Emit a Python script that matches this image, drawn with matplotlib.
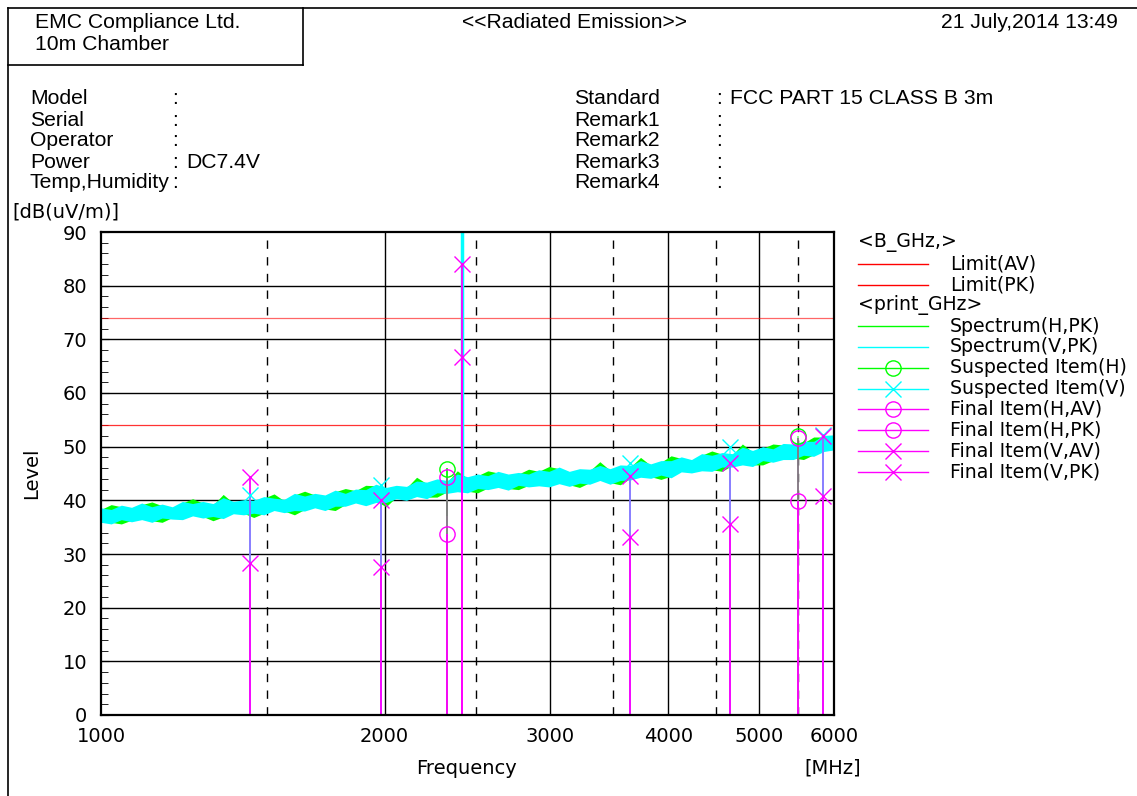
import matplotlib
matplotlib.use("Agg")
import numpy as np
import matplotlib.pyplot as plt
from matplotlib.ticker import FixedLocator, NullLocator, MultipleLocator

# ---------------- data ----------------
limit_av = 54.0
limit_pk = 74.0

# sweep grid of the spectrum trace (MHz)
spec_start, spec_stop = 1000, 6000
spec_v_upper = [38.6, 38.3, 39.1, 38.7, 39.5, 38.8, 39.3, 38.8, 39.8, 39.4, 39.8, 39.4, 40.5, 39.8,
                40.1, 40.0, 40.7, 40.4, 40.2, 41.3, 40.8, 41.3, 41.0, 41.9, 41.3, 42.1, 42.0, 43.0,
                42.4, 42.8, 42.6, 43.6, 43.4, 44.0, 43.7, 44.9, 44.4, 44.9, 44.6, 45.4, 44.9, 45.2,
                44.9, 45.7, 45.4, 46.2, 45.4, 45.9, 45.8, 46.5, 45.9, 46.6, 46.5, 47.4, 46.8, 47.4,
                47.4, 48.1, 47.6, 48.7, 48.4, 48.9, 48.7, 49.9, 49.3, 50.0, 49.6, 50.6, 50.5, 51.0,
                51.0, 52.1, 52.2]
spec_v_lower = [35.9, 35.6, 36.4, 36.0, 36.4, 35.9, 36.7, 36.5, 36.4, 37.1, 36.7, 37.0, 36.6, 37.5,
                37.3, 37.6, 37.3, 38.1, 37.7, 38.1, 38.0, 38.6, 38.1, 38.9, 38.9, 39.5, 39.0, 39.6,
                39.6, 40.3, 40.0, 40.7, 40.3, 41.4, 41.3, 41.6, 41.4, 42.2, 42.0, 42.4, 41.9, 42.8,
                42.5, 42.7, 42.5, 43.1, 42.6, 43.2, 43.0, 43.7, 43.0, 43.7, 43.8, 44.3, 44.1, 44.7,
                44.2, 45.3, 45.1, 45.5, 45.4, 46.2, 46.2, 46.6, 46.3, 47.4, 47.1, 47.6, 47.6, 48.4,
                48.2, 49.1, 49.4]
spec_h_upper = [38.3, 39.2, 38.8, 38.4, 39.2, 39.7, 39.0, 38.5, 39.5, 40.3, 39.5, 39.1, 41.1, 39.5,
                39.8, 39.7, 40.4, 41.2, 39.9, 41.0, 41.7, 41.0, 40.7, 41.6, 42.2, 41.8, 42.8, 42.7,
                42.1, 42.5, 42.3, 44.3, 43.1, 43.7, 43.4, 45.5, 44.1, 44.6, 45.5, 45.1, 44.6, 44.9,
                45.8, 45.4, 46.3, 45.9, 45.1, 45.6, 45.5, 47.2, 45.6, 46.3, 46.2, 48.0, 46.5, 47.1,
                48.3, 47.8, 47.3, 48.4, 49.2, 48.6, 48.4, 50.5, 49.0, 49.7, 50.5, 50.3, 50.2, 50.7,
                51.8, 51.8, 51.9]
spec_h_lower = [36.2, 35.9, 35.6, 36.3, 36.7, 36.2, 35.9, 36.8, 36.7, 37.4, 37.0, 36.2, 36.9, 37.8,
                37.6, 36.8, 37.6, 38.4, 38.0, 37.3, 38.3, 38.9, 38.4, 38.1, 39.2, 39.8, 39.3, 39.9,
                38.8, 40.6, 40.3, 41.0, 40.6, 40.6, 41.6, 41.9, 41.7, 41.4, 42.3, 42.7, 42.2, 42.0,
                42.8, 43.0, 42.8, 43.4, 42.9, 42.4, 43.3, 44.0, 43.3, 42.9, 44.1, 44.6, 44.4, 43.9,
                44.5, 45.6, 45.4, 45.8, 45.7, 45.4, 46.5, 46.9, 46.6, 46.6, 47.4, 47.9, 47.9, 47.6,
                48.5, 49.4, 49.7]

spike_v_freq = [2414]
spike_v_base = [44.0]
spike_v_top = [95.0]
spike_h_freq = [2328]
spike_h_base = [37.0]
spike_h_top = [46.0]

susp_h_freq = [2328, 5500]
susp_h_level = [45.9, 51.9]
susp_v_freq = [1439, 1982, 3642, 4651, 5843]
susp_v_level = [41.0, 42.9, 46.9, 49.9, 52.1]

final_h_freq = [2328, 5500]
final_h_av = [33.8, 39.9]
final_h_pk = [44.4, 51.6]
final_v_freq = [1439, 1982, 2417, 3642, 4651, 5843]
final_v_av = [28.3, 27.5, 66.7, 33.1, 35.5, 40.8]
final_v_pk = [44.3, 40.1, 84.1, 44.6, 47.0, 51.9]

x_ticks = [1000, 2000, 3000, 4000, 5000, 6000]
x_solid_grid = [2000, 3000, 4000, 5000]
x_dashed_grid = [1500, 2500, 3500, 4500, 5500]
y_ticks = list(range(0, 91, 10))

GREEN = "#00ff00"
CYAN = "#00ffff"
MAG = "#ff00ff"
RED = "#ff0000"

W, H = 1137, 796
fig = plt.figure(figsize=(W / 100, H / 100), dpi=100)
plt.rcParams['font.family'] = ['DejaVu Sans']

# overlay axes in pixel coordinates for header / legend
lax = fig.add_axes([0, 0, 1, 1])
lax.set_xlim(0, W)
lax.set_ylim(H, 0)
lax.axis("off")

# borders
lax.plot([8, W], [8, 8], color="black", lw=1.2)
lax.plot([8, 8], [8, H], color="black", lw=1.2)
lax.plot([303, 303], [8, 65], color="black", lw=1.2)
lax.plot([8, 303], [65, 65], color="black", lw=1.2)

hf = dict(fontsize=15.2, family=["Liberation Sans", "DejaVu Sans"], va="center")
lax.text(35, 22, "EMC Compliance Ltd.", ha="left", **hf)
lax.text(35, 44, "10m Chamber", ha="left", **hf)
lax.text(574, 22, "<<Radiated Emission>>", ha="center", **hf)
lax.text(1118, 22, "21 July,2014 13:49", ha="right", **hf)

left_labels = ["Model", "Serial", "Operator", "Power", "Temp,Humidity"]
left_values = ["", "", "", "DC7.4V", ""]
right_labels = ["Standard", "Remark1", "Remark2", "Remark3", "Remark4"]
right_values = ["FCC PART 15 CLASS B 3m", "", "", "", ""]
for i in range(5):
    y = 99 + i * 21
    lax.text(30, y, left_labels[i], ha="left", **hf)
    lax.text(172, y, ":", ha="left", **hf)
    if left_values[i]:
        lax.text(186, y, left_values[i], ha="left", **hf)
    lax.text(574, y, right_labels[i], ha="left", **hf)
    lax.text(716, y, ":", ha="left", **hf)
    if right_values[i]:
        lax.text(730, y, right_values[i], ha="left", **hf)

lf = dict(fontsize=13.6, va="center", ha="left")
lax.text(12, 212, "[dB(uV/m)]", fontsize=14, va="center", ha="left")
lax.text(32, 473, "Level", rotation=90, fontsize=14, va="center", ha="center")
lax.text(467, 768, "Frequency", fontsize=14, va="center", ha="center")
lax.text(833, 768, "[MHz]", fontsize=14, va="center", ha="center")

# legend
leg_rows = [
    ("<B_GHz,>", None, None),
    ("Limit(AV)", RED, None),
    ("Limit(PK)", RED, None),
    ("<print_GHz>", None, None),
    ("Spectrum(H,PK)", GREEN, None),
    ("Spectrum(V,PK)", CYAN, None),
    ("Suspected Item(H)", GREEN, "o"),
    ("Suspected Item(V)", CYAN, "x"),
    ("Final Item(H,AV)", MAG, "o"),
    ("Final Item(H,PK)", MAG, "o"),
    ("Final Item(V,AV)", MAG, "x"),
    ("Final Item(V,PK)", MAG, "x"),
]
for i, (lab, col, mk) in enumerate(leg_rows):
    y = 243 + i * 20.8
    if col is None:
        lax.text(858, y, lab, **lf)
    else:
        lax.plot([858, 928], [y, y], color=col, lw=1.0)
        if mk:
            lax.plot([893], [y], marker=mk, ms=11, mfc="none", mec=col, mew=1.0, ls="none")
        lax.text(950, y, lab, **lf)

# main axes
L, R, T, B = 101, 834, 232, 715
ax = fig.add_axes([L / W, 1 - B / H, (R - L) / W, (B - T) / H])
ax.set_xscale("log")
ax.set_xlim(1000, 6000)
ax.set_ylim(0, 90)

for v in y_ticks[1:-1]:
    ax.axhline(v, color="black", lw=1.0, zorder=1)
for v in x_solid_grid:
    ax.axvline(v, color="black", lw=1.0, zorder=1)
for v in x_dashed_grid:
    ax.axvline(v, color="black", lw=1.0, ls=(0, (6, 6)), zorder=1)

ax.axhline(limit_av, color=RED, lw=0.9, alpha=0.8, zorder=2)
ax.axhline(limit_pk, color=RED, lw=0.9, alpha=0.6, zorder=2)

spec_freq = np.geomspace(spec_start, spec_stop, len(spec_v_upper))
ax.fill_between(spec_freq, spec_h_lower, spec_h_upper, color=GREEN, lw=0, zorder=3)
ax.fill_between(spec_freq, spec_v_lower, spec_v_upper, color=CYAN, lw=0, zorder=4)
ax.vlines(spike_h_freq, spike_h_base, spike_h_top, color=GREEN, lw=1.2, zorder=4)
ax.vlines(spike_v_freq, spike_v_base, spike_v_top, color=CYAN, lw=2.5, zorder=5)

# stems
ax.vlines(final_h_freq, 0, final_h_pk, color=MAG, lw=1.3, zorder=6)
ax.vlines(final_v_freq, 0, final_v_pk, color=MAG, lw=1.3, zorder=6)
ax.vlines(susp_h_freq, 0, susp_h_level, color=GREEN, lw=1.3, alpha=0.5, zorder=7)
ax.vlines(susp_v_freq, 0, susp_v_level, color=CYAN, lw=1.3, alpha=0.5, zorder=7)
ax.vlines(final_h_freq, 0, final_h_av, color=MAG, lw=1.3, zorder=8)
ax.vlines(final_v_freq, 0, final_v_av, color=MAG, lw=1.3, zorder=8)

mk = dict(ls="none", ms=11, mew=1.0, mfc="none", zorder=9)
ax.plot(susp_h_freq, susp_h_level, marker="o", mec=GREEN, **mk)
ax.plot(susp_v_freq, susp_v_level, marker="x", mec=CYAN, **mk)
ax.plot(final_h_freq, final_h_av, marker="o", mec=MAG, **mk)
ax.plot(final_h_freq, final_h_pk, marker="o", mec=MAG, **mk)
ax.plot(final_v_freq, final_v_av, marker="x", mec=MAG, **mk)
ax.plot(final_v_freq, final_v_pk, marker="x", mec=MAG, **mk)

ax.xaxis.set_major_locator(FixedLocator(x_ticks))
ax.xaxis.set_minor_locator(NullLocator())
ax.set_xticklabels([str(v) for v in x_ticks])
ax.yaxis.set_major_locator(FixedLocator(y_ticks))
ax.yaxis.set_minor_locator(MultipleLocator(2))
ax.tick_params(axis="x", which="both", length=0, labelsize=14, pad=9)
ax.tick_params(axis="y", which="major", direction="in", length=6, labelsize=14, pad=10)
ax.tick_params(axis="y", which="minor", direction="in", length=5)
for s in ax.spines.values():
    s.set_linewidth(1.6)
    s.set_zorder(10)

fig.savefig("out.png", dpi=100)
